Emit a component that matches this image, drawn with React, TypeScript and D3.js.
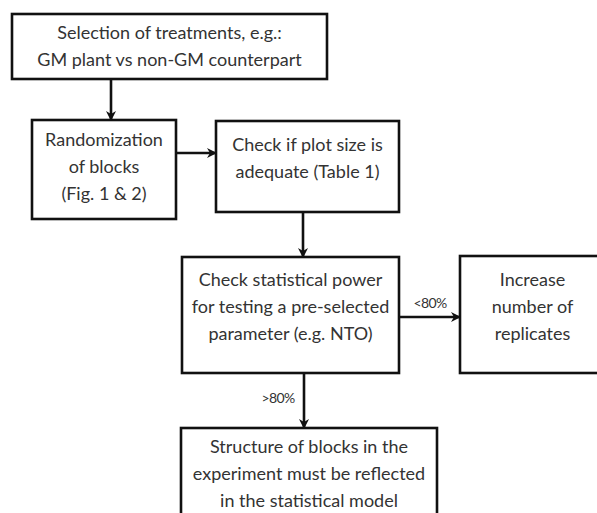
import { useEffect, useRef } from "react";
import * as d3 from "d3";

// text of each box, one entry per line
const boxIds = ["select", "random", "plot", "power", "increase", "structure"];
const boxLines = [
  ["Selection of treatments, e.g.:", "GM plant vs non-GM counterpart"],
  ["Randomization", "of blocks", "(Fig. 1 & 2)"],
  ["Check if plot size is", "adequate (Table 1)"],
  ["Check statistical power", "for testing a pre-selected", "parameter (e.g. NTO)"],
  ["Increase", "number of", "replicates"],
  ["Structure of blocks in the", "experiment must be reflected", "in the statistical model"],
];
const edgeFrom = ["select", "random", "plot", "power", "power"];
const edgeTo = ["random", "plot", "power", "increase", "structure"];
const edgeLabels = ["", "", "", "<80%", ">80%"];

// layout (pixels)
const boxLayout: Record<string, { x: number; y: number; w: number; h: number; lineY: number }> = {
  select: { x: 12, y: 14, w: 315, h: 65, lineY: 33 },
  random: { x: 32, y: 120, w: 144, h: 99, lineY: 140 },
  plot: { x: 216, y: 121, w: 183, h: 91, lineY: 145 },
  power: { x: 182, y: 257, w: 217, h: 116, lineY: 280 },
  increase: { x: 460, y: 256, w: 145, h: 117, lineY: 280 },
  structure: { x: 181, y: 428, w: 256, h: 110, lineY: 447 },
};
const edgeLayout = [
  { x1: 111, y1: 79, x2: 111, y2: 120, lx: 0, ly: 0 },
  { x1: 176, y1: 153, x2: 216, y2: 153, lx: 0, ly: 0 },
  { x1: 303, y1: 212, x2: 303, y2: 257, lx: 0, ly: 0 },
  { x1: 399, y1: 317, x2: 460, y2: 317, lx: 430, ly: 303 },
  { x1: 304, y1: 373, x2: 304, y2: 428, lx: 278, ly: 398 },
];

const W = 597;
const H = 513;
const lineGap = 27;
const textColor = "#333";

const App = () => {
  const ref = useRef<SVGSVGElement>(null);

  useEffect(() => {
    const svg = d3.select(ref.current);
    svg.selectAll("*").remove();

    svg
      .append("defs")
      .append("marker")
      .attr("id", "arrow")
      .attr("viewBox", "0 0 10 10")
      .attr("refX", 9)
      .attr("refY", 5)
      .attr("markerWidth", 10)
      .attr("markerHeight", 10)
      .attr("markerUnits", "userSpaceOnUse")
      .attr("orient", "auto")
      .append("path")
      .attr("d", "M0,0 L10,5 L0,10 L3,5 Z")
      .attr("fill", "#111");

    svg.append("rect").attr("width", W).attr("height", H).attr("fill", "#fff");

    const boxes = svg
      .selectAll("g.box")
      .data(boxIds)
      .join("g")
      .attr("class", "box");

    boxes
      .append("rect")
      .attr("x", (d) => boxLayout[d].x)
      .attr("y", (d) => boxLayout[d].y)
      .attr("width", (d) => boxLayout[d].w)
      .attr("height", (d) => boxLayout[d].h)
      .attr("fill", "#fff")
      .attr("stroke", "#111")
      .attr("stroke-width", 2.6);

    boxes.each(function (d, i) {
      const b = boxLayout[d];
      d3.select(this)
        .selectAll("text")
        .data(boxLines[i])
        .join("text")
        .attr("x", b.x + b.w / 2)
        .attr("y", (_, j) => b.lineY + j * lineGap)
        .attr("dy", "0.35em")
        .attr("text-anchor", "middle")
        .attr("font-family", "Lato, 'Open Sans', sans-serif")
        .attr("font-size", 18)
        .attr("fill", textColor)
        .text((t) => t);
    });

    const edges = svg
      .selectAll("g.edge")
      .data(edgeFrom.map((f, i) => ({ from: f, to: edgeTo[i], label: edgeLabels[i], ...edgeLayout[i] })))
      .join("g")
      .attr("class", "edge");

    edges
      .append("line")
      .attr("x1", (d) => d.x1)
      .attr("y1", (d) => d.y1)
      .attr("x2", (d) => d.x2)
      .attr("y2", (d) => d.y2)
      .attr("stroke", "#111")
      .attr("stroke-width", 2.6)
      .attr("marker-end", "url(#arrow)");

    edges
      .filter((d) => d.label !== "")
      .append("text")
      .attr("x", (d) => d.lx)
      .attr("y", (d) => d.ly)
      .attr("dy", "0.35em")
      .attr("text-anchor", "middle")
      .attr("font-family", "Lato, 'Open Sans', sans-serif")
      .attr("font-size", 14)
      .attr("letter-spacing", -0.6)
      .attr("fill", textColor)
      .text((d) => d.label);
  }, []);

  return (
    <svg
      ref={ref}
      width={W}
      height={H}
      style={{ position: "absolute", left: 0, top: 0, display: "block" }}
    />
  );
};

export default App;
